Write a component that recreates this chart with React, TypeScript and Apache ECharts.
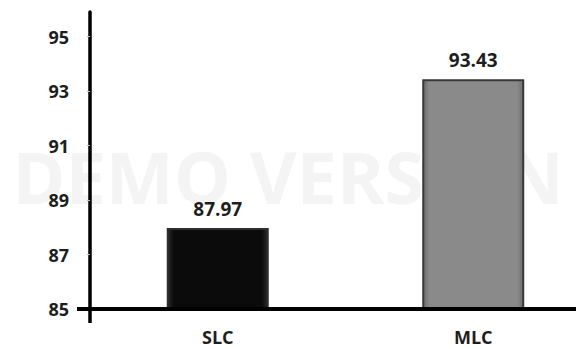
import React, { useEffect, useRef } from "react";
import * as echarts from "echarts";

const categories = ["SLC", "MLC"];
const values = [87.97, 93.43];
const barColors = ["#0b0b0b", "#8a8a8a"];
const barEdges = ["#2a2a2a", "#6c6c6c"];
const barBorders = ["#2e2e2e", "#383838"];
const yTicks = [85, 87, 89, 91, 93, 95];

const W = 576;
const H = 349;
const GRID_LEFT = 90;
const GRID_TOP = 12;
const GRID_BOTTOM = 40;
const FONT = "'Open Sans', 'Liberation Sans', sans-serif";

// bevelled fill: darker rims at the left and right sides of a bar
const bevel = (face: string, edge: string) =>
  new echarts.graphic.LinearGradient(0, 0, 1, 0, [
    { offset: 0, color: edge },
    { offset: 0.06, color: face },
    { offset: 0.94, color: face },
    { offset: 1, color: edge },
  ]);

export default function App() {
  const ref = useRef<HTMLDivElement>(null);

  useEffect(() => {
    document.body.style.margin = "0";
    const chart = echarts.init(ref.current!, null, { renderer: "svg" });
    const axisY = H - GRID_BOTTOM;
    chart.setOption({
      animation: false,
      backgroundColor: "#ffffff",
      grid: {
        left: GRID_LEFT,
        top: GRID_TOP,
        bottom: GRID_BOTTOM,
        width: 511,
        containLabel: false,
        outerBoundsMode: "none",
      },
      graphic: [
        {
          type: "text",
          z: -10,
          left: "center",
          top: 140,
          silent: true,
          style: {
            text: "DEMO VERSION",
            fill: "#f4f4f4",
            font: `bold 72px ${FONT}`,
          },
        },
        // axis stubs past the crossing point
        {
          type: "line",
          z: 10,
          shape: { x1: 77, y1: axisY, x2: GRID_LEFT, y2: axisY },
          style: { stroke: "#000", lineWidth: 4 },
        },
        {
          type: "line",
          z: 10,
          shape: { x1: GRID_LEFT, y1: axisY, x2: GRID_LEFT, y2: axisY + 14 },
          style: { stroke: "#000", lineWidth: 3.5 },
        },
      ],
      xAxis: {
        type: "category",
        data: categories,
        axisLine: { lineStyle: { color: "#000", width: 4 } },
        axisTick: { show: false },
        axisLabel: {
          color: "#1e1e1e",
          fontFamily: FONT,
          fontWeight: "bold",
          fontSize: 18,
          margin: 19,
        },
        z: 5,
      },
      yAxis: {
        type: "value",
        min: 85,
        max: 95.9,
        interval: 2,
        splitLine: { show: false },
        axisLine: { show: true, lineStyle: { color: "#000", width: 3.5 } },
        axisTick: { show: true, length: 3, lineStyle: { color: "#bbb", width: 1 } },
        axisLabel: {
          color: "#1e1e1e",
          fontFamily: FONT,
          fontWeight: "bold",
          fontSize: 18,
          margin: 21,
          showMaxLabel: false,
          formatter: (v: number) => (yTicks.includes(v) ? String(v) : ""),
        },
        z: 5,
      },
      series: [
        {
          type: "bar",
          barWidth: 102,
          data: values.map((v, i) => ({
            value: v,
            itemStyle: {
              color: bevel(barColors[i], barEdges[i]),
              borderColor: barBorders[i],
              borderWidth: 2,
            },
          })),
          label: {
            show: true,
            position: "top",
            distance: 10,
            color: "#1e1e1e",
            fontFamily: FONT,
            fontWeight: "bold",
            fontSize: 19,
            formatter: (p: any) => p.value.toFixed(2),
          },
        },
      ],
    });
    return () => chart.dispose();
  }, []);

  return <div ref={ref} style={{ width: W, height: H }} />;
}
